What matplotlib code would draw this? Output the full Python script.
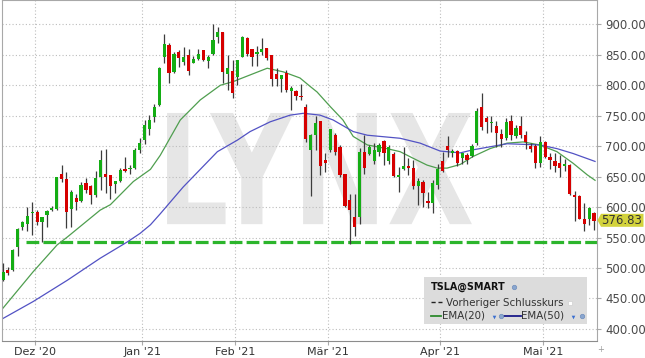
import numpy as np
import pandas as pd
import matplotlib
matplotlib.use('Agg')
import matplotlib.pyplot as plt
from matplotlib.textpath import TextPath
from matplotlib.patches import PathPatch, Polygon, Rectangle
from matplotlib.font_manager import FontProperties
from matplotlib.transforms import Affine2D
from matplotlib.lines import Line2D

# Handelstage TSLA 19.11.2020 - 17.05.2021
days = pd.bdate_range('2020-11-19', '2021-05-17')
holidays = pd.to_datetime(['2020-11-26', '2020-12-25', '2021-01-01',
                           '2021-01-18', '2021-02-15', '2021-04-02'])
days = days.drop(holidays)

opens = [480, 497, 497, 535, 568, 573, 590, 592, 575, 587,
         596, 597, 655, 646, 597, 615, 610, 639, 635, 620,
         650, 654, 652, 638, 643, 662, 662, 665, 694, 710,
         729, 748, 768, 846, 866, 822, 854, 839, 850, 837,
         843, 858, 840, 852, 880, 887, 818, 824, 813, 846,
         878, 859, 851, 855, 862, 850, 818, 810, 820, 791,
         791, 783, 764, 694, 718, 741, 678, 694, 718, 699,
         654, 612, 583, 584, 691, 687, 675, 691, 709, 675,
         687, 650, 662, 668, 664, 635, 642, 610, 607, 636,
         676, 700, 689, 692, 681, 685, 684, 705, 764, 746,
         738, 733, 720, 713, 742, 717, 733, 718, 700, 700,
         673, 707, 683, 676, 673, 667, 669, 620, 618, 581,
         580, 590]
highs = [508, 502, 532, 566, 578, 600, 609, 596, 583, 596,
         602, 650, 669, 658, 628, 621, 642, 648, 636, 659,
         694, 695, 653, 643, 665, 682, 669, 697, 713, 743,
         751, 770, 830, 885, 869, 855, 858, 863, 859, 848,
         859, 858, 850, 900, 895, 888, 850, 841, 842, 881,
         879, 859, 864, 877, 862, 850, 828, 817, 825, 799,
         793, 802, 769, 720, 750, 742, 688, 729, 722, 702,
         655, 622, 622, 697, 718, 702, 705, 705, 710, 702,
         690, 666, 698, 680, 677, 647, 645, 625, 645, 670,
         691, 716, 696, 694, 688, 688, 703, 762, 787, 749,
         749, 741, 729, 747, 752, 735, 749, 725, 705, 703,
         716, 708, 688, 688, 686, 679, 670, 627, 620, 606,
         600, 592]
lows = [478, 489, 495, 520, 562, 560, 554, 571, 543, 567,
        594, 595, 642, 565, 567, 595, 608, 623, 605, 616,
        628, 623, 614, 623, 642, 658, 654, 662, 689, 703,
        718, 740, 766, 836, 803, 820, 830, 833, 817, 836,
        841, 840, 828, 850, 870, 803, 792, 779, 800, 846,
        848, 831, 831, 850, 841, 798, 798, 789, 789, 760,
        776, 776, 707, 618, 694, 653, 658, 690, 686, 649,
        600, 540, 553, 573, 654, 685, 671, 684, 669, 671,
        650, 624, 661, 653, 630, 603, 600, 598, 590, 630,
        658, 683, 682, 667, 671, 671, 682, 702, 727, 721,
        723, 699, 699, 710, 710, 713, 713, 696, 691, 664,
        666, 680, 663, 658, 650, 660, 620, 578, 580, 560,
        570, 562]
closes = [494, 492, 530, 564, 575, 586, 592, 576, 583, 594,
          599, 649, 646, 592, 625, 609, 636, 628, 620, 647,
          677, 650, 635, 643, 661, 660, 665, 694, 705, 734,
          743, 765, 828, 868, 820, 852, 844, 847, 824, 843,
          851, 841, 847, 874, 887, 821, 828, 788, 841, 879,
          851, 847, 854, 859, 844, 811, 810, 817, 792, 796,
          783, 780, 711, 718, 738, 667, 673, 728, 690, 653,
          601, 595, 568, 690, 664, 698, 694, 702, 689, 699,
          651, 652, 668, 664, 634, 643, 623, 607, 640, 662,
          660, 693, 692, 673, 688, 678, 700, 758, 732, 739,
          740, 722, 712, 740, 718, 730, 718, 707, 695, 672,
          707, 683, 677, 667, 665, 670, 622, 616, 580, 573,
          598, 576.83]

# EMA-Linien (Position = Handelstag-Index)
ema20_idx = [0, 6.2, 11.1, 13.2, 19.9, 22, 26.7, 30.2, 32.2, 36.3, 40.4, 44.5,
             47.1, 50.6, 54.1, 57.4, 60.8, 62.9, 64.3, 67, 69.6, 71.7, 74.6,
             78.6, 81.3, 84, 86.8, 88.9, 90.9, 93.6, 96.2, 99.7, 103.2, 106.5,
             109.9, 113.4, 116.7, 119.6, 121.2]
ema20_val = [434, 494, 538, 551, 595, 604, 642, 662, 685, 743, 776, 800,
             806, 817, 828, 822, 812, 798, 789, 765, 743, 716, 702,
             696, 691, 680, 669, 664, 664, 670, 683, 696, 705, 707,
             702, 691, 672, 653, 644]
ema50_idx = [-0.25, 6.2, 13.2, 19.9, 25.5, 28.1, 30.2, 32.2, 36.9, 43.9, 48,
             50.6, 54.7, 58.8, 61.5, 64.9, 67.6, 71.7, 74.6, 81.3, 85.4, 89.5,
             93.6, 96.2, 103.2, 109.9, 113.4, 116.7, 121.2]
ema50_val = [416, 445, 480, 516, 543, 557, 571, 589, 633, 691, 710,
             724, 740, 751, 754, 751, 743, 724, 718, 713, 705, 692,
             689, 694, 704, 702, 696, 688, 675]

prev_close = 543.3
last_price = 576.83
month_names = {12: 'Dez', 1: 'Jan', 2: 'Feb', 3: 'Mär', 4: 'Apr', 5: 'Mai'}

W, H = 645, 358
fig = plt.figure(figsize=(W / 100, H / 100), dpi=100)
ax = fig.add_axes([1.7 / W, 17.5 / H, 595.3 / W, 340.5 / H])

def px(x, y):
    return x / W, 1 - y / H

x = np.arange(len(days))
o = np.array(opens, float)
c = np.array(closes, float)
hi = np.array(highs, float)
lo = np.array(lows, float)

# Wasserzeichen
tp = TextPath((0, 0), 'LYNX', size=1, prop=FontProperties(family='DejaVu Sans', weight='bold'))
bb = tp.get_extents()
x0, x1, y0, y1 = 33.6, 96.0, 572.0, 754.5
tr = Affine2D().translate(-bb.x0, -bb.y0).scale((x1 - x0) / bb.width, (y1 - y0) / bb.height).translate(x0, y0)
ax.add_patch(PathPatch(tr.transform_path(tp), fc='#e6e6e6', ec='none', zorder=0.3))

# Kerzen
up = c >= o
colors = np.where(up, '#14ad14', '#d60000')
ax.vlines(x, lo, hi, color='#3c3c3c', lw=0.9, zorder=3)
body = np.maximum(np.abs(c - o), 1.6)
ax.bar(x, body, bottom=np.minimum(o, c), width=0.66, color=colors, zorder=4)

# EMAs
ax.plot(ema20_idx, ema20_val, color='#4f9e4f', lw=0.9, zorder=2.5)
ax.plot(ema50_idx, ema50_val, color='#5252c4', lw=0.9, zorder=2.5)

# Vorheriger Schlusskurs
ax.hlines(prev_close, 4.7, 121.6, color='#2cb52c', lw=2.3, linestyles=(0, (4, 1.3)), zorder=2)

# Achsen
ax.set_xlim(-0.25, 121.6)
ax.set_ylim(381, 940)

months = days.month
tick_pos, tick_lab = [], []
for i in range(1, len(days)):
    if months[i] != months[i - 1]:
        tick_pos.append(i - 0.5)
        tick_lab.append(f"{month_names[months[i]]} '{days[i].strftime('%y')}")
ax.set_xticks(tick_pos)
ax.set_xticklabels(tick_lab)
ax.set_yticks(np.arange(400, 901, 50))
ax.yaxis.tick_right()
ax.yaxis.set_major_formatter(matplotlib.ticker.FormatStrFormatter('%.2f'))
ax.tick_params(axis='y', labelsize=8.5, labelcolor='#4a4a4a', color='#aaaaaa', length=3, pad=3)
ax.tick_params(axis='x', labelsize=8, labelcolor='#333333', color='#aaaaaa', length=3, pad=2)
ax.set_axisbelow('line')
ax.grid(True, color='#bdbdbd', lw=0.8, linestyle=(0, (1, 2)))
for s in ax.spines.values():
    s.set_color('#a8a8a8')
    s.set_linewidth(0.8)
ax.spines['bottom'].set_color('#8c8c8c')

# Kursmarke rechts
fig.patches.append(Polygon([px(597.5, 220.3), px(601, 213.8), px(643.5, 213.8),
                            px(643.5, 226.8), px(601, 226.8)], closed=True,
                           transform=fig.transFigure, fc='#d3d33c', ec='none', zorder=5))
fig.text(*px(622, 220.6), f'{last_price:.2f}', ha='center', va='center', fontsize=8.5,
         color='#333333', zorder=6)
fig.text(*px(601, 350), '+', ha='center', va='center', fontsize=6, color='#999999')

# Legende
fig.patches.append(Rectangle(px(424.3, 324), 162.4 / W, 46.7 / H, transform=fig.transFigure,
                             fc='#dcdcdc', ec='none', zorder=5))
fs = 7.4
fig.text(*px(430.7, 286.5), 'TSLA@SMART', fontsize=6.9, fontweight='bold', color='#111111',
         va='center', zorder=6)
fig.lines.append(Line2D([430.7 / W, 441.7 / W], [1 - 302.3 / H] * 2, transform=fig.transFigure,
                        color='#222222', lw=1, linestyle=(0, (3, 2)), zorder=6))
fig.text(*px(445.5, 302.5), 'Vorheriger Schlusskurs', fontsize=fs, color='#333333',
         va='center', zorder=6)
fig.lines.append(Line2D([430.7 / W, 440.7 / W], [1 - 315.5 / H] * 2, transform=fig.transFigure,
                        color='#2e8b2e', lw=1.3, zorder=6))
fig.text(*px(441.7, 316), 'EMA(20)', fontsize=fs, color='#333333', va='center', zorder=6)
fig.lines.append(Line2D([503 / W, 521 / W], [1 - 315.5 / H] * 2, transform=fig.transFigure,
                        color='#1a1a8a', lw=1.3, zorder=6))
fig.text(*px(521, 316), 'EMA(50)', fontsize=fs, color='#333333', va='center', zorder=6)
for gx, gy in [(514, 286.5), (500.7, 316), (581.7, 316)]:
    fig.lines.append(Line2D([gx / W], [1 - gy / H], transform=fig.transFigure, marker='o',
                            ms=3.2, mfc='#8aa6cf', mec='#6f8dbb', mew=0.5, zorder=6))
for vx in [494.3, 573.3]:
    fig.lines.append(Line2D([vx / W], [1 - 316.5 / H], transform=fig.transFigure, marker='v',
                            ms=2.6, mfc='#3b6fd0', mec='none', zorder=6))
fig.lines.append(Line2D([570 / W], [1 - 302.5 / H], transform=fig.transFigure, marker='s',
                        ms=3.2, mfc='white', mec='#d0d0d0', mew=0.5, zorder=6))

fig.savefig('out.png', dpi=100)
